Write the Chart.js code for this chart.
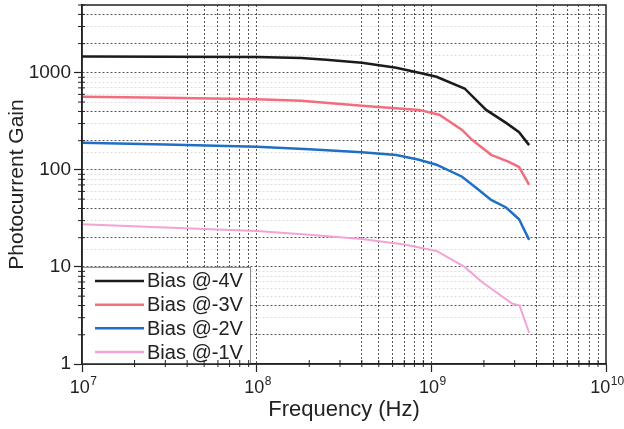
<!DOCTYPE html>
<html>
<head>
<meta charset="utf-8">
<script src="https://cdn.jsdelivr.net/npm/chart.js@4"></script>
<style>html,body{margin:0;padding:0;background:#fff}</style>
</head>
<body>
<canvas id="chart" width="624" height="429"></canvas>
<script>
// series
const seriesLabels = ['Bias @-4V', 'Bias @-3V', 'Bias @-2V', 'Bias @-1V'];
const seriesColors = ['#1b1b1b', '#f26d7d', '#1f6fc5', '#f3a3d5'];

const freqM4 = [1e7, 3e7, 1e8, 1.8e8, 2.5e8, 4e8, 6.3e8, 8.5e8, 1.07e9, 1.55e9, 2.06e9, 2.68e9, 3.18e9, 3.63e9];
const gainM4 = [1470, 1465, 1455, 1420, 1365, 1270, 1130, 1000, 910, 690, 415, 305, 245, 180];

const freqM3 = [1e7, 3e7, 1e8, 1.8e8, 4e8, 8.5e8, 1.11e9, 1.5e9, 1.71e9, 2.2e9, 2.78e9, 3.18e9, 3.63e9];
const gainM3 = [566, 555, 535, 515, 457, 415, 370, 258, 204, 143, 121, 107, 70];

const freqM2 = [1e7, 3e7, 1e8, 2e8, 4e8, 6.3e8, 8.5e8, 1.07e9, 1.5e9, 1.81e9, 2.2e9, 2.68e9, 3.18e9, 3.63e9];
const gainM2 = [190, 183, 173, 163, 152, 142, 127, 113, 85, 65, 49, 41, 31, 19];

const freqM1 = [1e7, 3e7, 1e8, 2e8, 4e8, 7e8, 1.07e9, 1.55e9, 1.95e9, 2.9e9, 3.2e9, 3.63e9];
const gainM1 = [27.5, 25.5, 23.5, 21.5, 19.4, 17, 14.6, 10, 7, 4.2, 4.0, 2.1];

// tick labels: x as base + exponent, y as plain numbers
const xDecades = [1e7, 1e8, 1e9, 1e10];
const xTickBase = ['10', '10', '10', '10'];
const xTickExp = ['7', '8', '9', '10'];
const yDecades = [1, 10, 100, 1000];
const yTickText = ['1', '10', '100', '1000'];

const FONT = "'Liberation Sans', Arial, sans-serif";
const INK = '#222';

const toPoints = (xs, ys) => xs.map((x, i) => ({ x: x, y: ys[i] }));
const allFreq = [freqM4, freqM3, freqM2, freqM1];
const allGain = [gainM4, gainM3, gainM2, gainM1];

// significand of a log tick value (1..9.x)
function sig(v) {
  const e = Math.floor(Math.log10(v) + 1e-9);
  return Math.round(v / Math.pow(10, e) * 10) / 10;
}
function findDecade(list, v) {
  return list.findIndex(d => Math.abs(v / d - 1) < 1e-6);
}

const framePlugin = {
  id: 'frame',
  afterDraw(chart) {
    const ctx = chart.ctx;
    const area = chart.chartArea;
    const xs = chart.scales.x;
    const ys = chart.scales.y;

    // legend box inside the plot, bottom left
    const top = ys.getPixelForValue(10);
    const left = area.left;
    const boxW = 168;
    ctx.save();
    ctx.fillStyle = '#fff';
    ctx.fillRect(left, top, boxW, area.bottom - top);
    ctx.strokeStyle = 'rgba(0,0,0,0.45)';
    ctx.lineWidth = 1;
    ctx.strokeRect(left + 0.5, top + 0.5, boxW, area.bottom - top);
    ctx.font = '20px ' + FONT;
    ctx.textBaseline = 'middle';
    chart.data.datasets.forEach((ds, i) => {
      const yy = top + 14 + i * 23.7;
      ctx.strokeStyle = ds.borderColor;
      ctx.lineWidth = 2.5;
      ctx.beginPath();
      ctx.moveTo(left + 13, yy);
      ctx.lineTo(left + 62, yy);
      ctx.stroke();
      ctx.fillStyle = INK;
      ctx.fillText(ds.label, left + 65, yy + 1);
    });

    // plot frame
    ctx.strokeStyle = INK;
    ctx.lineWidth = 1.5;
    ctx.strokeRect(area.left, area.top, area.right - area.left, area.bottom - area.top);

    // minor ticks crossing the axes
    ctx.lineWidth = 1;
    for (let e = 7; e < 10; e++) {
      for (let s = 2; s <= 9; s++) {
        const px = xs.getPixelForValue(s * Math.pow(10, e));
        ctx.beginPath();
        ctx.moveTo(px, area.bottom - 4);
        ctx.lineTo(px, area.bottom + 3);
        ctx.stroke();
      }
    }
    for (let e = 0; e < 4; e++) {
      for (let s = 2; s <= 9; s++) {
        const v = s * Math.pow(10, e);
        if (v > ys.max) break;
        const py = ys.getPixelForValue(v);
        ctx.beginPath();
        ctx.moveTo(area.left - 4, py);
        ctx.lineTo(area.left + 3, py);
        ctx.stroke();
      }
    }

    // x tick labels with raised exponents, placed on the x scale
    ctx.fillStyle = INK;
    ctx.textBaseline = 'alphabetic';
    ctx.textAlign = 'left';
    xDecades.forEach((d, i) => {
      const px = xs.getPixelForValue(d);
      ctx.font = '18px ' + FONT;
      const w1 = ctx.measureText(xTickBase[i]).width;
      ctx.font = '12px ' + FONT;
      const w2 = ctx.measureText(xTickExp[i]).width;
      const x0 = px - (w1 + w2) / 2 + 1;
      ctx.font = '18px ' + FONT;
      ctx.fillText(xTickBase[i], x0, area.bottom + 29);
      ctx.font = '12px ' + FONT;
      ctx.fillText(xTickExp[i], x0 + w1 + 0.5, area.bottom + 21);
    });
    ctx.restore();
  }
};

new Chart(document.getElementById('chart'), {
  type: 'line',
  data: {
    datasets: seriesLabels.map((label, i) => ({
      label: label,
      data: toPoints(allFreq[i], allGain[i]),
      borderColor: seriesColors[i],
      backgroundColor: seriesColors[i],
      borderWidth: i === 3 ? 2 : 2.5,
      pointRadius: 0,
      tension: 0,
      fill: false
    }))
  },
  options: {
    responsive: false,
    animation: false,
    devicePixelRatio: 1,
    layout: { padding: { top: 5, right: 18, left: 0, bottom: 0 } },
    plugins: {
      legend: { display: false },
      tooltip: { enabled: false }
    },
    scales: {
      x: {
        type: 'logarithmic',
        position: 'bottom',
        min: 1e7,
        max: 1e10,
        ticks: {
          autoSkip: false,
          maxRotation: 0,
          minRotation: 0,
          padding: 2,
          color: INK,
          font: { family: FONT, size: 18 },
          callback: () => ''
        },
        grid: {
          lineWidth: 1,
          tickLength: 8,
          tickWidth: 1.2,
          color: (c) => {
            const v = c.tick && c.tick.value;
            if (!v || v <= 1.001e7 || v >= 0.999e10) return 'transparent';
            return [1, 4, 5, 6, 7, 8, 9].includes(sig(v)) ? 'rgba(30,30,30,0.75)' : 'transparent';
          },
          tickColor: (c) => {
            const v = c.tick && c.tick.value;
            return v && findDecade(xDecades, v) >= 0 ? INK : 'transparent';
          }
        },
        border: { display: true, color: INK, width: 1.5, dash: [2, 2] },
        title: {
          display: true,
          text: 'Frequency (Hz)',
          color: INK,
          font: { family: FONT, size: 22 },
          padding: { top: 0, bottom: 6 }
        },
        afterFit: (s) => { s.height = 65; s.paddingLeft = 0; s.paddingRight = 0; }
      },
      y: {
        type: 'logarithmic',
        min: 1,
        max: 5000,
        ticks: {
          autoSkip: false,
          padding: 3,
          color: INK,
          font: { family: FONT, size: 19 },
          callback: (v) => {
            const i = findDecade(yDecades, v);
            return i >= 0 ? yTickText[i] : '';
          }
        },
        grid: {
          lineWidth: 1,
          tickLength: 8,
          tickWidth: 1.2,
          color: (c) => {
            const v = c.tick && c.tick.value;
            if (!v || v <= 1.001 || v >= 4999) return 'transparent';
            return [1, 2, 4].includes(sig(v)) ? 'rgba(30,30,30,0.75)' : 'rgba(30,30,30,0.14)';
          },
          tickColor: (c) => {
            const v = c.tick && c.tick.value;
            return v && findDecade(yDecades, v) >= 0 ? INK : 'transparent';
          }
        },
        border: { display: true, color: INK, width: 1.5, dash: [2, 2] },
        title: {
          display: true,
          text: 'Photocurrent Gain',
          color: INK,
          font: { family: FONT, size: 21 },
          padding: { top: 5, bottom: 0 }
        },
        afterFit: (s) => { s.width = 82; s.paddingTop = 0; s.paddingBottom = 0; }
      }
    }
  },
  plugins: [framePlugin]
});
</script>
</body>
</html>
